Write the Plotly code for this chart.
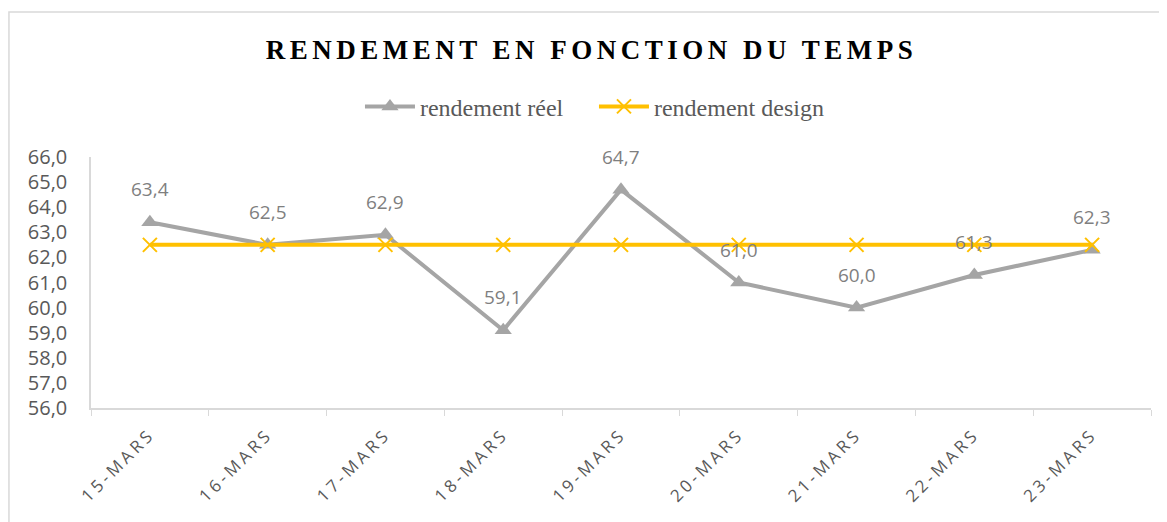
import plotly.graph_objects as go

categories = ["15-MARS", "16-MARS", "17-MARS", "18-MARS", "19-MARS",
              "20-MARS", "21-MARS", "22-MARS", "23-MARS"]
rendement_reel = [63.4, 62.5, 62.9, 59.1, 64.7, 61.0, 60.0, 61.3, 62.3]
rendement_design = [62.5] * 9
y_ticks = [56, 57, 58, 59, 60, 61, 62, 63, 64, 65, 66]

GRAY = "#A5A5A5"
YELLOW = "#FFC000"
AXIS = "#D9D9D9"
TXT = "#595959"

fig = go.Figure()
fig.add_trace(go.Scatter(
    x=categories, y=rendement_reel, name="rendement réel",
    mode="lines+markers",
    line=dict(color=GRAY, width=4),
    marker=dict(symbol="triangle-up", size=15, color=GRAY),
))
fig.add_trace(go.Scatter(
    x=categories, y=rendement_design, name="rendement design",
    mode="lines+markers",
    line=dict(color=YELLOW, width=4),
    marker=dict(symbol="x-thin-open", size=14, color=YELLOW,
                line=dict(color=YELLOW, width=2)),
))

for c, v in zip(categories, rendement_reel):
    fig.add_annotation(x=c, y=v, text=f"{v:.1f}".replace(".", ","),
                       showarrow=False, yshift=33,
                       font=dict(family="Open Sans", size=19, color="#7F7F7F"))

fig.add_shape(type="rect", xref="paper", yref="paper",
              x0=-0.0774, x1=1.05, y0=-0.6, y1=1.578,
              line=dict(color=AXIS, width=1.5), layer="below")

fig.update_layout(
    width=1167, height=522,
    paper_bgcolor="white", plot_bgcolor="white",
    margin=dict(l=83, r=24, t=149, b=122),
    separators=", ",
    title=dict(
        text='<span style="letter-spacing:4.5px">RENDEMENT EN FONCTION DU TEMPS</span>',
        x=0.5, xanchor="center", y=0.92, yanchor="middle",
        font=dict(family="Liberation Serif", size=27, color="#000000", weight="bold"),
    ),
    legend=dict(orientation="h", x=0.4745, xanchor="center", y=1.20, yanchor="middle",
                font=dict(family="Liberation Serif", size=24, color=TXT),
                itemwidth=50, tracegroupgap=0,
                entrywidth=169, entrywidthmode="pixels"),
    xaxis=dict(
        type="category", range=[-0.5, 8.5],
        tickvals=categories,
        ticktext=[f'<span style="letter-spacing:3.5px">{c}</span>' for c in categories],
        tickangle=-45, tickson="boundaries", ticks="outside", ticklen=6,
        tickcolor=AXIS, showline=True, linecolor=AXIS, linewidth=1.5,
        showgrid=False, ticklabelstandoff=8,
        tickfont=dict(family="Open Sans", size=17, color=TXT),
    ),
    yaxis=dict(
        range=[56, 66], tickvals=y_ticks, tickformat=".1f",
        showline=True, linecolor=AXIS, linewidth=1.5, showgrid=False,
        ticks="", zeroline=False, ticklabelstandoff=18,
        tickfont=dict(family="Open Sans", size=20, color=TXT),
    ),
)

fig.write_html("out.html")
